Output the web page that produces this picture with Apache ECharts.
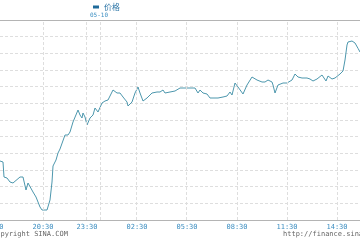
<!DOCTYPE html>
<html><head><meta charset="utf-8">
<script src="https://cdn.jsdelivr.net/npm/echarts@6/dist/echarts.min.js"></script>
<style>html,body{margin:0;padding:0;background:#fff}#c{width:360px;height:240px}</style>
</head><body><div id="c"></div>
<script>
// bar index along the time axis (one unit per bar)
var barIndex = [0,3,4,7,10,13,20,23,26,28,30,33,36,38,40,42,47,48,50,52,53,56,58,60,62,65,68,70,73,75,78,80,82,83,85,87,90,93,95,98,102,105,108,110,113,115,117,120,123,127,128,132,135,138,140,143,147,152,157,160,163,165,170,175,180,195,198,200,203,207,210,215,218,223,227,230,232,233,235,238,243,247,252,257,262,263,265,268,272,273,275,277,278,283,287,288,292,295,298,302,307,310,313,317,322,324,326,328,332,335,340,343,345,347,348,350,352,355,358,360];
var price = [3435.4,3434.8,3425.8,3425.2,3422.8,3422.2,3425.8,3425.8,3418.0,3422.2,3421.6,3416.8,3413.8,3413.8,3407.8,3406.0,3406.0,3406.6,3412.0,3422.8,3432.4,3436.0,3440.2,3442.6,3443.8,3451.0,3451.0,3452.8,3458.8,3460.0,3466.0,3463.0,3461.2,3464.2,3461.8,3457.0,3461.2,3463.0,3467.2,3464.8,3470.2,3471.4,3472.0,3472.6,3478.0,3476.8,3476.2,3476.2,3473.8,3470.8,3468.4,3470.8,3476.2,3479.8,3476.2,3471.4,3473.2,3476.2,3476.8,3476.8,3478.0,3476.2,3476.8,3477.4,3479.2,3479.2,3476.2,3478.0,3476.2,3475.6,3473.2,3473.2,3473.2,3473.8,3474.4,3476.8,3475.0,3473.8,3482.2,3479.8,3475.6,3481.0,3485.8,3484.0,3482.8,3481.6,3482.8,3484.0,3482.8,3481.0,3476.2,3475.0,3481.0,3482.2,3482.2,3481.6,3484.0,3487.6,3485.8,3485.2,3485.2,3484.6,3483.4,3484.6,3487.0,3487.6,3483.4,3486.4,3484.6,3485.2,3487.6,3489.4,3496.0,3505.0,3506.8,3508.0,3507.4,3506.2,3503.0,3500.8];
// time tick positions (bar index) and their labels
var tickIndex = [-7,43,87,137,187,237,287,337];
var tickLabels = ['17:30','20:30','23:30','02:30','05:30','08:30','11:30','14:30'];
var gridIndex = [43.5,86.5,100.5,136.5,186.5,237.5,287.5,337.5];
var seriesName = '价格';
var dateLabel = '05-10';

var chart = echarts.init(document.getElementById('c'), null, {renderer:'canvas'});
var pts = barIndex.map(function(x,i){return [x, price[i]];});
var vLines = gridIndex.map(function(v){return {xAxis:v};});
var mono = '"DejaVu Sans Mono", monospace';
chart.setOption({
  animation:false,
  grid:{left:-20,right:0,top:20,bottom:20,outerBoundsMode:'none',containLabel:false},
  legend:{
    data:[{name:seriesName,itemStyle:{color:'#1f6a9a'}}],
    top:3,left:93,padding:0,itemWidth:6,itemHeight:3,icon:'rect',
    textStyle:{color:'#2f77a8',fontSize:8,fontFamily:'"Noto Sans CJK SC"'}
  },
  xAxis:[{
    type:'value',min:-20,max:360,
    axisLine:{show:true,lineStyle:{color:'#b4b4b4',width:1}},
    axisTick:{show:false},
    splitLine:{show:false},
    axisLabel:{
      customValues:tickIndex,margin:4,
      color:'#3d8fc2',fontSize:7,fontFamily:mono,
      formatter:function(v){var i=tickIndex.indexOf(v);return i>=0?tickLabels[i]:'';}
    }
  },{
    type:'value',position:'top',min:-20,max:360,
    axisLine:{show:true,lineStyle:{color:'#b4b4b4',width:1}},
    axisTick:{show:false},axisLabel:{show:false},splitLine:{show:false}
  }],
  yAxis:{
    type:'value',min:3400,max:3520,interval:10,
    axisLine:{show:false},axisTick:{show:false},axisLabel:{show:false},
    splitLine:{show:true,lineStyle:{color:'#dedede',type:[3,2],width:1}}
  },
  graphic:[
    {type:'text',left:90,top:12,style:{text:dateLabel,fill:'#3d8fc2',font:'6px '+mono}},
    {type:'text',left:-8,top:231,style:{text:'Copyright SINA.COM',fill:'#666',font:'7px '+mono}},
    {type:'text',left:283,top:231,style:{text:'http://finance.sina.com.cn',fill:'#666',font:'7px '+mono}}
  ],
  series:[{
    name:seriesName,type:'line',data:pts,showSymbol:false,
    lineStyle:{color:'#4d97ad',width:1},itemStyle:{color:'#4d97ad'},
    markLine:{silent:true,symbol:'none',label:{show:false},
      lineStyle:{color:'#dedede',type:[3,2],width:1},data:vLines},
    z:3
  }]
});
</script></body></html>
